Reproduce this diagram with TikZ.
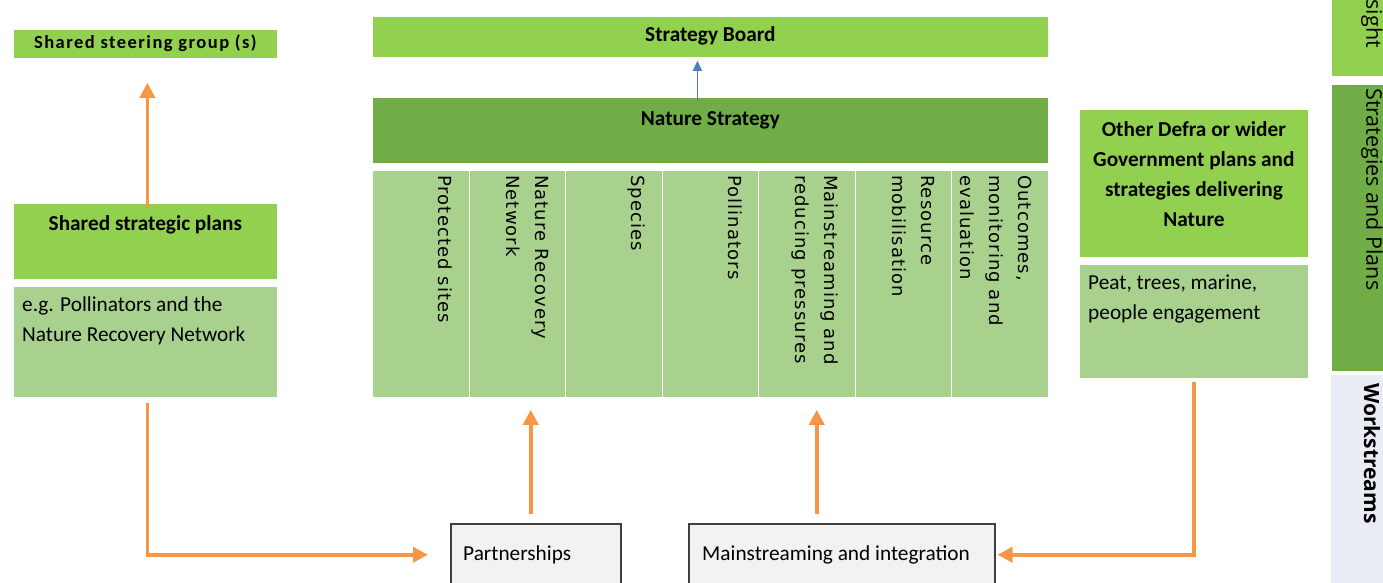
\documentclass[tikz,border=0pt]{standalone}
\usepackage{fontspec}
\setmainfont{Carlito}
\newfontfamily\spacedfont[LetterSpace=8]{Carlito}
\newfontfamily\colfont[LetterSpace=6]{DejaVu Sans}
\newfontfamily\barfont{Open Sans}
\usetikzlibrary{arrows.meta,calc}
\definecolor{lgreen}{HTML}{92D050}
\definecolor{dgreen}{HTML}{70AD47}
\definecolor{pgreen}{HTML}{A9D18E}
\definecolor{orangeline}{HTML}{F79646}
\definecolor{bluearrow}{HTML}{4A7EBB}
\definecolor{greybox}{HTML}{F2F2F2}
\definecolor{greyedge}{HTML}{3F3F3F}
\definecolor{barblue}{HTML}{E9EBF5}
\begin{document}
\begin{tikzpicture}[x=1pt,y=-1pt,
  box/.style={draw=white, line width=0.8pt, inner sep=0pt, anchor=north west},
  wbox/.style={draw=greyedge, line width=1.5pt, fill=greybox, inner sep=0pt, anchor=north west},
  colbox/.style={box, fill=pgreen, minimum width=96.57pt, minimum height=227pt},
  txt/.style={font=\fontsize{21.3}{29.5}\selectfont, inner sep=0pt},
  btxt/.style={txt, font=\fontsize{21.3}{30}\selectfont\bfseries},
  coltext/.style={font=\colfont\fontsize{18}{29}\selectfont, inner sep=0pt, rotate=-90, anchor=north west, align=left},
  bartext/.style={font=\barfont\fontsize{21.5}{24}\selectfont, inner sep=0pt, rotate=-90},
  arr/.style={draw=orangeline, line width=3.8pt, -{Triangle[length=15pt,width=15pt]}},
  bluearr/.style={draw=bluearrow, line width=1.5pt, -{Triangle[length=10pt,width=9pt]}}
]
\useasboundingbox (0,0) rectangle (1383,583);

% left column: steering group and shared plans
\node[box, fill=lgreen, minimum width=264pt, minimum height=29pt] (steer) at (13,29) {};
\node[txt, anchor=base, font=\spacedfont\fontsize{18.5}{22}\selectfont\bfseries] at ($(steer.north)+(0,20)$) {Shared steering group (s)};
\node[box, fill=lgreen, minimum width=264pt, minimum height=76pt] (plans) at (13,203) {};
\node[btxt, anchor=base] at ($(plans.north)+(0,27)$) {Shared strategic plans};
\node[box, fill=pgreen, minimum width=264pt, minimum height=111pt] (eg) at (13,286) {};
% multi-line nodes: the base anchor sits on the last line
\node[txt, anchor=base west, align=left] at (22,341) {e.g. Pollinators and the\\Nature Recovery Network};

% centre: strategy board, nature strategy and its workstream columns
\node[box, fill=lgreen, minimum width=676pt, minimum height=41pt] (sb) at (372,16) {};
\node[btxt, anchor=base] at ($(sb.north)+(0,26)$) {Strategy Board};
\node[box, fill=dgreen, minimum width=676pt, minimum height=66pt] (ns) at (372,97) {};
\node[btxt, anchor=base] at ($(ns.north)+(0,28)$) {Nature Strategy};
\foreach \i/\t in {1/{Protected sites},2/{Nature Recovery\\Network},3/{Species},4/{Pollinators},5/{Mainstreaming and\\reducing pressures},6/{Resource\\mobilisation},7/{Outcomes,\\monitoring and\\evaluation}}{
  \node[colbox] (c\i) at ({372+(\i-1)*96.57},170) {};
  \node[coltext] at ([xshift=-17pt,yshift=-5pt]c\i.north east) {\t};
}

% right column: other government plans
\node[box, fill=lgreen, minimum width=229pt, minimum height=148pt] (defra) at (1079,109) {};
\node[btxt, anchor=base, align=center] at ($(defra.north)+(0,117)$) {Other Defra or wider\\Government plans and\\strategies delivering\\Nature};
\node[box, fill=pgreen, minimum width=229pt, minimum height=114pt] (peat) at (1079,264) {};
\node[txt, anchor=base west, align=left] at (1088,319) {Peat, trees, marine,\\people engagement};

% side bar of levels
\begin{scope}
\clip (1320,0) rectangle (1383,583);
\node[box, fill=lgreen, minimum width=60pt, minimum height=77pt] (lvlover) at (1331,-1) {};
\node[box, fill=dgreen, minimum width=60pt, minimum height=287pt] (lvlstrat) at (1331,84) {};
\node[box, draw=none, fill=barblue, minimum width=60pt, minimum height=210pt] (lvlwork) at (1331,375) {};
\node[bartext, anchor=east] at (1372,48) {sight};
\node[bartext, anchor=west] at (1372,88) {Strategies and Plans};
\node[bartext, anchor=west, font=\barfont\fontsize{21}{24}\selectfont\bfseries] at (1372,383) {Workstreams};
\end{scope}

% bottom: workstream delivery boxes
\node[wbox, minimum width=170pt, minimum height=62pt] (part) at (450,523) {};
\node[txt, anchor=west] at ([xshift=13pt]part.west) {Partnerships};
\node[wbox, minimum width=306pt, minimum height=62pt] (main) at (688,523) {};
\node[txt, anchor=west] at ([xshift=14pt]main.west) {Mainstreaming and integration};

% connectors
\draw[bluearr, shorten <=-4pt, shorten >=3pt] ([xshift=-13pt]ns.north) -- ([xshift=-13pt]sb.south);
\draw[arr, shorten <=-4pt, shorten >=24pt] ([xshift=2pt]plans.north) -- ([xshift=2pt]steer.south);
\draw[arr, shorten <=5pt, shorten >=22pt] ([xshift=2pt]eg.south) |- (part.west);
\draw[arr, shorten <=3pt, shorten >=2pt] (peat.south) |- (main.east);
\draw[arr, shorten <=9pt, shorten >=12pt] ([xshift=-5pt]part.north) -- ([xshift=-5pt]part.north |- c2.south);
\draw[arr, shorten <=9pt, shorten >=12pt] ([xshift=-25pt]main.north) -- ([xshift=-25pt]main.north |- c5.south);
\end{tikzpicture}
\end{document}
